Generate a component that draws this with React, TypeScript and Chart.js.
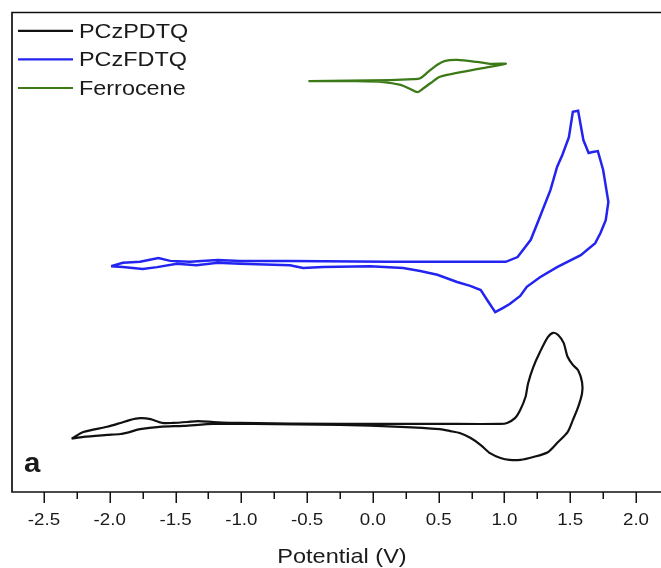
import React, { useEffect, useRef } from "react";
import { Chart, registerables } from "chart.js";

Chart.register(...registerables);

// ---- data (Potential in V, current in arbitrary units) ----
const seriesNames = ["PCzPDTQ", "PCzFDTQ", "Ferrocene"];
const seriesColors = ["#111111", "#2424f0", "#3c7a18"];

const pczpdtqV = [-2.29, -2.20, -2.02, -1.92, -1.85, -1.77, -1.69, -1.60, -1.52, -1.41, -1.33, -1.21, -1.01, -0.25, 0.51, 0.97, 1.02, 1.08, 1.12, 1.16, 1.18, 1.22, 1.27, 1.33, 1.37, 1.41, 1.45, 1.48, 1.52, 1.56, 1.59, 1.59, 1.56, 1.52, 1.48, 1.40, 1.33, 1.22, 1.12, 1.04, 0.97, 0.89, 0.82, 0.74, 0.66, 0.59, 0.51, 0.21, -0.25, -0.91, -1.21, -1.44, -1.62, -1.77, -1.85, -1.92, -2.02, -2.20, -2.29];
const pczpdtqI = [11.1, 12.5, 13.6, 14.4, 15.0, 15.4, 15.2, 14.4, 14.4, 14.6, 14.8, 14.6, 14.4, 14.2, 14.2, 14.2, 14.4, 15.4, 17.1, 19.8, 22.7, 26.1, 29.2, 32.3, 33.2, 32.7, 31.1, 28.2, 26.5, 25.4, 22.9, 20.6, 17.7, 15.0, 12.5, 10.2, 8.3, 7.3, 6.7, 6.7, 7.1, 8.1, 9.8, 11.3, 12.3, 12.7, 13.1, 13.6, 14.0, 14.2, 14.2, 13.8, 13.6, 13.1, 12.5, 12.1, 11.9, 11.5, 11.1];

const pczfdtqV = [-1.99, -1.90, -1.77, -1.63, -1.54, -1.39, -1.18, -1.01, -0.63, 0.13, 1.01, 1.10, 1.20, 1.27, 1.35, 1.40, 1.44, 1.49, 1.52, 1.56, 1.60, 1.64, 1.67, 1.71, 1.75, 1.79, 1.77, 1.73, 1.69, 1.58, 1.40, 1.27, 1.17, 1.12, 1.04, 0.99, 0.93, 0.87, 0.82, 0.74, 0.64, 0.49, 0.36, 0.23, -0.02, -0.38, -0.53, -0.63, -1.01, -1.18, -1.34, -1.49, -1.64, -1.75, -1.90, -1.99];
const pczfdtqI = [47.1, 47.8, 48.0, 48.8, 48.2, 48.0, 48.4, 48.2, 48.2, 48.0, 48.0, 49.0, 52.6, 57.4, 63.0, 67.8, 70.3, 74.0, 79.3, 79.5, 73.4, 70.7, 70.9, 71.1, 67.2, 60.5, 56.7, 54.0, 51.9, 49.4, 46.9, 44.8, 42.8, 40.9, 39.2, 38.4, 37.5, 40.0, 42.1, 43.0, 43.8, 45.3, 46.1, 46.7, 47.1, 46.9, 46.7, 47.3, 47.6, 47.8, 47.3, 47.6, 46.9, 46.5, 46.9, 47.1];

const ferroceneV = [-0.49, -0.12, 0.08, 0.21, 0.28, 0.34, 0.38, 0.44, 0.51, 0.64, 0.79, 1.01, 0.89, 0.79, 0.64, 0.55, 0.49, 0.42, 0.36, 0.31, 0.13, -0.49];
const ferroceneI = [85.7, 85.7, 85.5, 84.9, 84.1, 83.4, 84.1, 85.3, 86.6, 87.4, 88.2, 89.3, 89.3, 89.7, 90.1, 89.9, 89.1, 87.6, 86.3, 86.1, 85.9, 85.7];

const xTickValues = [-2.5, -2.0, -1.5, -1.0, -0.5, 0.0, 0.5, 1.0, 1.5, 2.0];
const xTickLabels = ["-2.5", "-2.0", "-1.5", "-1.0", "-0.5", "0.0", "0.5", "1.0", "1.5", "2.0"];
const xMinorTickValues = [-2.25, -1.75, -1.25, -0.75, -0.25, 0.25, 0.75, 1.25, 1.75];
const xAxisTitle = "Potential (V)";
const panelLabel = "a";

const zip = (xs: number[], ys: number[]) => xs.map((x, i) => ({ x, y: ys[i] }));

function stretchedText(
  ctx: CanvasRenderingContext2D,
  text: string,
  x: number,
  y: number,
  font: string,
  sx: number,
  align: CanvasTextAlign
) {
  ctx.save();
  ctx.font = font;
  ctx.translate(x, y);
  ctx.scale(sx, 1);
  ctx.textAlign = align;
  ctx.textBaseline = "alphabetic";
  ctx.fillText(text, 0, 0);
  ctx.restore();
}

const decorPlugin = {
  id: "decor",
  afterDraw(chart: any) {
    const ctx: CanvasRenderingContext2D = chart.ctx;
    const area = chart.chartArea;
    const xs = chart.scales.x;
    ctx.save();
    // frame (left, top, bottom)
    ctx.strokeStyle = "#111";
    ctx.lineWidth = 1.7;
    ctx.beginPath();
    ctx.moveTo(area.right + 2, area.top);
    ctx.lineTo(area.left, area.top);
    ctx.lineTo(area.left, area.bottom);
    ctx.lineTo(area.right + 2, area.bottom);
    ctx.stroke();
    // ticks
    ctx.lineWidth = 1.5;
    ctx.beginPath();
    xTickValues.forEach((v) => {
      const px = Math.round(xs.getPixelForValue(v)) + 0.25;
      ctx.moveTo(px, area.bottom);
      ctx.lineTo(px, area.bottom + 11);
    });
    xMinorTickValues.forEach((v) => {
      const px = Math.round(xs.getPixelForValue(v)) + 0.25;
      ctx.moveTo(px, area.bottom);
      ctx.lineTo(px, area.bottom + 7);
    });
    ctx.stroke();
    // tick labels
    ctx.fillStyle = "#1a1a1a";
    xTickValues.forEach((v, i) => {
      const px = xs.getPixelForValue(v);
      stretchedText(ctx, xTickLabels[i], px, area.bottom + 33, "16px 'Liberation Sans', Arial, sans-serif", 1.17, "center");
    });
    // axis title
    stretchedText(ctx, xAxisTitle, (xs.getPixelForValue(-0.25) + xs.getPixelForValue(-0.25)) / 2 + 2, 562.5, "21px 'Liberation Sans', Arial, sans-serif", 1.12, "center");
    // panel label
    stretchedText(ctx, panelLabel, area.left + 12, area.top + 459, "bold 28px 'Liberation Sans', Arial, sans-serif", 1.05, "left");
    // legend
    chart.data.datasets.forEach((ds: any, i: number) => {
      const y = area.top + 18.3 + i * 28.6;
      ctx.strokeStyle = ds.borderColor;
      ctx.lineWidth = 2.2;
      ctx.beginPath();
      ctx.moveTo(area.left + 6, y);
      ctx.lineTo(area.left + 61, y);
      ctx.stroke();
      ctx.fillStyle = "#1a1a1a";
      stretchedText(ctx, ds.label, area.left + 67, y + 6.8, "19.5px 'Liberation Sans', Arial, sans-serif", 1.2, "left");
    });
    ctx.restore();
  },
};

export default function App() {
  const canvasRef = useRef<HTMLCanvasElement | null>(null);

  useEffect(() => {
    if (!canvasRef.current) return;
    const seriesData = [
      zip(pczpdtqV, pczpdtqI),
      zip(pczfdtqV, pczfdtqI),
      zip(ferroceneV, ferroceneI),
    ];
    const tensions = [0.25, 0, 0.3];
    const widths = [2.2, 2.5, 2.3];
    const chart = new Chart(canvasRef.current, {
      type: "scatter",
      data: {
        datasets: seriesNames.map((name, i) => ({
          label: name,
          data: seriesData[i],
          showLine: true,
          borderColor: seriesColors[i],
          backgroundColor: seriesColors[i],
          borderWidth: widths[i],
          pointRadius: 0,
          pointHoverRadius: 0,
          tension: tensions[i],
          fill: false,
        })),
      },
      options: {
        animation: false,
        responsive: false,
        devicePixelRatio: 1,
        layout: { padding: { left: 12, top: 12.5, right: 0, bottom: 76 } },
        plugins: {
          legend: { display: false },
          tooltip: { enabled: false },
          title: { display: false },
        },
        events: [],
        scales: {
          x: { type: "linear", min: -2.743, max: 2.19, display: false },
          y: { type: "linear", min: 0, max: 100, display: false },
        },
      },
      plugins: [decorPlugin],
    });
    return () => chart.destroy();
  }, []);

  return (
    <div style={{ position: "fixed", left: 0, top: 0, width: 661, height: 568, background: "#fff" }}>
      <canvas ref={canvasRef} width={661} height={568} style={{ width: 661, height: 568, display: "block" }} />
    </div>
  );
}
